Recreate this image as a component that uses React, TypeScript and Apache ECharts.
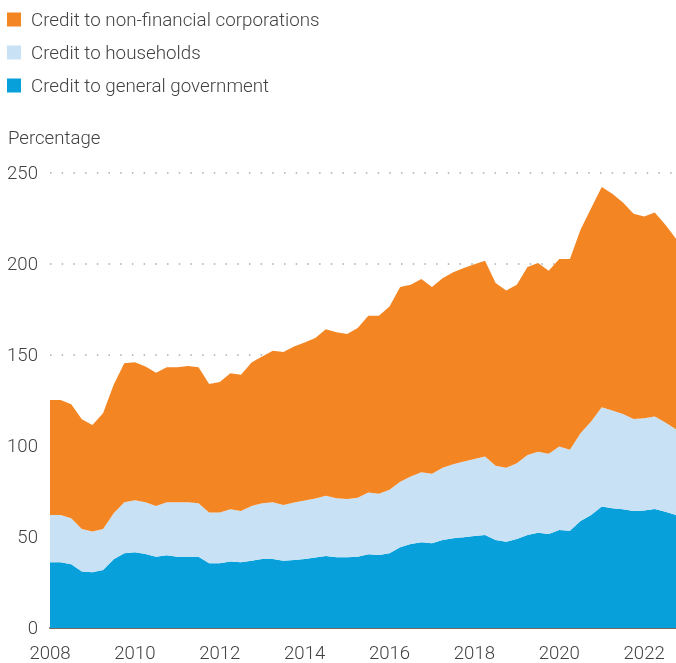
import React, { useEffect, useRef } from "react";
import * as echarts from "echarts";

const years = [2008, 2009, 2010, 2011, 2012, 2013, 2014, 2015, 2016, 2017, 2018, 2019, 2020, 2021, 2022];
const quarters = ["Q1", "Q2", "Q3", "Q4"];
const categories: string[] = [];
years.forEach((y) => quarters.forEach((q) => categories.push(`${y} ${q}`)));

const government = [
  36.1, 36.1, 35.0, 31.0, 30.6, 31.9, 37.8, 41.1, 41.6, 40.7,
  39.2, 40.0, 39.2, 39.2, 39.2, 35.6, 35.6, 36.5, 36.1, 37.0,
  37.9, 37.9, 37.0, 37.4, 37.9, 38.7, 39.6, 38.9, 38.9, 39.2,
  40.5, 40.1, 41.1, 44.4, 46.2, 47.1, 46.6, 48.4, 49.3, 49.9,
  50.6, 51.1, 48.4, 47.4, 48.9, 51.1, 52.4, 51.7, 53.9, 53.5,
  58.8, 62.1, 66.7, 65.8, 65.2, 64.3, 64.5, 65.4, 63.9, 62.1,
];
const households = [
  26.0, 26.0, 25.3, 23.4, 22.4, 22.5, 25.2, 28.0, 28.6, 28.4,
  27.8, 29.1, 29.9, 29.9, 29.3, 27.8, 27.8, 28.7, 28.2, 30.1,
  30.6, 31.2, 30.6, 31.5, 32.1, 32.4, 33.0, 32.4, 32.0, 32.4,
  33.9, 33.6, 34.8, 36.0, 37.0, 38.5, 38.1, 39.7, 40.7, 41.6,
  42.3, 43.1, 40.8, 40.7, 41.6, 44.0, 44.5, 44.0, 45.8, 44.4,
  48.2, 51.3, 54.6, 53.7, 52.4, 50.6, 50.8, 50.8, 49.0, 47.1,
];
const corporations = [
  63.2, 63.2, 62.7, 60.3, 58.6, 63.6, 70.6, 76.4, 75.8, 74.6,
  73.3, 74.2, 74.2, 74.8, 74.8, 70.7, 71.8, 74.8, 74.8, 78.8,
  80.7, 83.2, 84.0, 85.8, 86.8, 88.2, 91.6, 91.2, 90.6, 93.2,
  97.1, 97.8, 100.7, 106.9, 105.4, 106.1, 102.6, 104.1, 105.5, 106.3,
  107.0, 107.6, 100.3, 97.3, 98.1, 103.2, 103.6, 100.6, 103.0, 104.8,
  111.8, 117.3, 121.0, 119.1, 116.2, 112.7, 110.8, 112.1, 108.7, 104.7,
];

const NAME_CORP = "Credit to non-financial corporations";
const NAME_HH = "Credit to households";
const NAME_GOV = "Credit to general government";

const FONT = "Roboto";
const TEXT_COLOR = "#424242";

export default function App() {
  const ref = useRef<HTMLDivElement>(null);
  useEffect(() => {
    if (!ref.current) return;
    const chart = echarts.init(ref.current, undefined, { renderer: "svg" });
    const areaSeries = (name: string, data: number[], color: string) => ({
      name,
      type: "line",
      stack: "total",
      data,
      symbol: "none",
      showSymbol: false,
      lineStyle: { width: 0 },
      itemStyle: { color },
      areaStyle: { color, opacity: 1 },
    });
    chart.setOption({
      animation: false,
      textStyle: { fontFamily: FONT },
      legend: {
        orient: "vertical",
        left: 7,
        top: 10,
        padding: 0,
        itemWidth: 14,
        itemHeight: 14,
        itemGap: 14,
        icon: "rect",
        data: [NAME_CORP, NAME_HH, NAME_GOV],
        textStyle: {
          fontFamily: FONT,
          fontSize: 18.8,
          fontWeight: 300,
          color: TEXT_COLOR,
          padding: [0, 0, 0, 5],
        },
      },
      graphic: [
        {
          type: "text",
          left: 8,
          top: 128,
          style: {
            text: "Percentage",
            fontFamily: FONT,
            fontSize: 18.6,
            fontWeight: 300,
            fill: TEXT_COLOR,
          },
        },
      ],
      grid: { left: 50, right: 0, top: 173, bottom: 35 },
      xAxis: {
        type: "category",
        boundaryGap: false,
        data: categories,
        axisTick: { show: false },
        axisLine: { lineStyle: { color: "#75685f", width: 2 } },
        axisLabel: {
          interval: (i: number) => i % 8 === 0,
          formatter: (v: string) => v.slice(0, 4),
          fontFamily: FONT,
          fontSize: 18.6,
          fontWeight: 300,
          color: TEXT_COLOR,
          margin: 15,
        },
        splitLine: { show: false },
      },
      yAxis: {
        type: "value",
        min: 0,
        max: 250,
        interval: 50,
        axisLine: { show: false },
        axisTick: { show: false },
        axisLabel: {
          fontFamily: FONT,
          fontSize: 18.6,
          fontWeight: 300,
          color: TEXT_COLOR,
          margin: 12,
        },
        splitLine: {
          lineStyle: { color: "#aaaaaa", width: 1.5, type: [1.5, 10.2] },
        },
      },
      series: [
        areaSeries(NAME_GOV, government, "#07a0da"),
        areaSeries(NAME_HH, households, "#c8e1f4"),
        areaSeries(NAME_CORP, corporations, "#f48523"),
      ],
    });
    return () => chart.dispose();
  }, []);
  return (
    <div
      ref={ref}
      style={{ position: "fixed", left: 0, top: 0, width: 676, height: 663 }}
    />
  );
}
